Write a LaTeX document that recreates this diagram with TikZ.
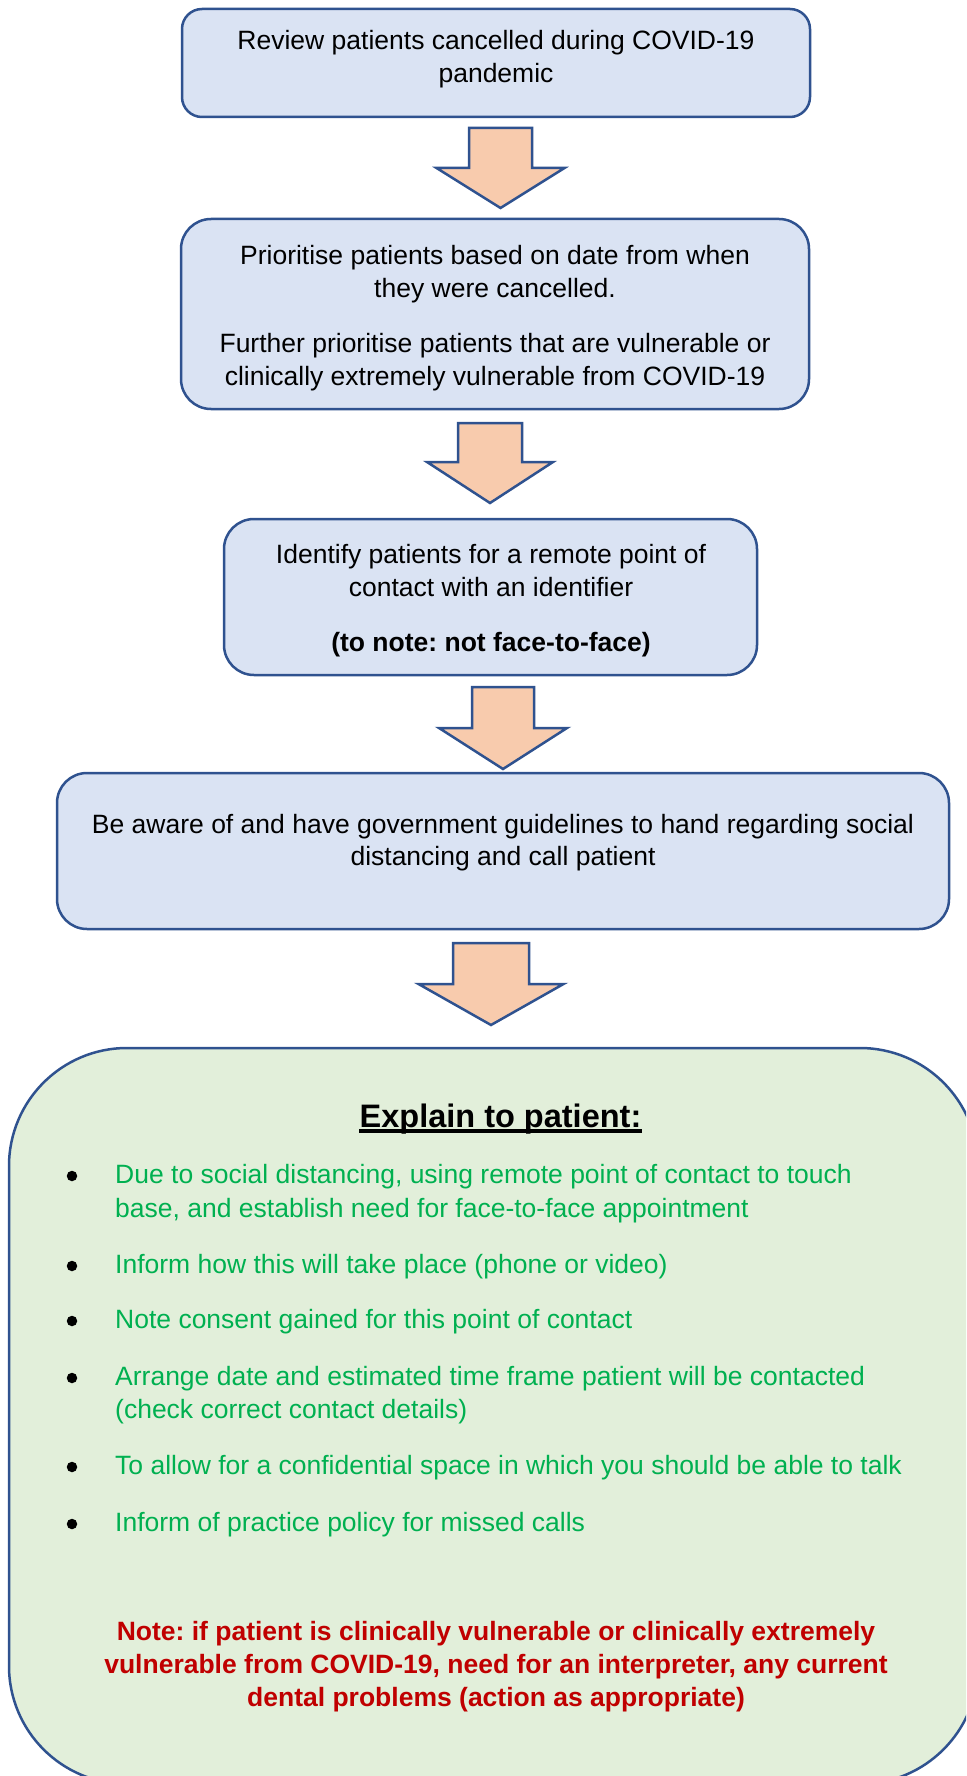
\documentclass[tikz,border=0pt]{standalone}
\usepackage{fontspec}
\setmainfont{Liberation Sans}
\usetikzlibrary{calc}
\frenchspacing
\definecolor{boxblue}{HTML}{DAE3F3}
\definecolor{edgeblue}{HTML}{2F528F}
\definecolor{arrowfill}{HTML}{F8CBAD}
\definecolor{panelgreen}{HTML}{E2EFDA}
\definecolor{textgreen}{HTML}{00B050}
\definecolor{textred}{HTML}{C00000}

% block arrow pointing down: cx, top, shaft half width, head y, head half width, tip y
\newcommand\blockarrow[6]{%
  \draw[downarrow] (#1-#3,#2) -- (#1+#3,#2) -- (#1+#3,#4) -- (#1+#5,#4)
    -- (#1,#6) -- (#1-#5,#4) -- (#1-#3,#4) -- cycle;}

\begin{document}
\begin{tikzpicture}[x=1pt,y=-1pt,
  stepbox/.style={draw=edgeblue, line width=2.5pt, fill=boxblue, rectangle, inner sep=0pt},
  downarrow/.style={draw=edgeblue, line width=2.5pt, fill=arrowfill, line join=miter},
  txt/.style={anchor=base, inner sep=0pt, font=\fontsize{26.5}{33}\selectfont},
  btxt/.style={txt, font=\fontsize{26.5}{33}\selectfont\bfseries},
  gtxt/.style={anchor=base west, inner sep=0pt, text=textgreen, font=\fontsize{26.5}{33}\selectfont},
  rtxt/.style={btxt, text=textred},
  dot/.style={circle, fill=black, inner sep=0pt, minimum size=10.5pt}
]
\useasboundingbox (0,0) rectangle (966,1776);

% ---- step boxes ----
\node[stepbox, minimum width=628pt, minimum height=108pt, rounded corners=20pt] (b1) at (496,63) {};
\node[txt] (b1a) at (496,50) {Review patients cancelled during COVID-19};
\node[txt] (b1b) at (496,83) {pandemic};

\node[stepbox, minimum width=628pt, minimum height=190pt, rounded corners=30pt] (b2) at (495,314) {};
\node[txt] (b2a) at (495,265) {Prioritise patients based on date from when};
\node[txt] (b2b) at (495,298) {they were cancelled.};
\node[txt] (b2c) at (495,352) {Further prioritise patients that are vulnerable or};
\node[txt] (b2d) at (495,385) {clinically extremely vulnerable from COVID-19};

\node[stepbox, minimum width=533pt, minimum height=156pt, rounded corners=30pt] (b3) at (490.5,597) {};
\node[txt] (b3a) at (491,563) {Identify patients for a remote point of};
\node[txt] (b3b) at (491,596) {contact with an identifier};
\node[btxt] (b3c) at (491,651) {(to note: not face-to-face)};

\node[stepbox, minimum width=892pt, minimum height=156pt, rounded corners=30pt] (b4) at (503,851) {};
\node[txt] (b4a) at (503,833) {Be aware of and have government guidelines to hand regarding social};
\node[txt] (b4b) at (503,865) {distancing and call patient};

% ---- block arrows between the steps ----
\blockarrow{500.5}{128}{31.5}{168}{64}{208}
\blockarrow{490}{423}{32}{462}{63}{503}
\blockarrow{503}{687}{31}{728}{64}{769}
\blockarrow{491}{943}{38}{984}{72.5}{1025}

% ---- explanation panel ----
\begin{scope}
\clip (0,0) rectangle (966,1776);
\node[draw=edgeblue, line width=2.5pt, fill=panelgreen, rectangle, inner sep=0pt,
      minimum width=969pt, minimum height=736pt, rounded corners=118pt] (panel) at (493.5,1416) {};
\end{scope}

\node[anchor=base, inner sep=0pt, font=\fontsize{32.5}{36}\selectfont\bfseries] (head) at (500.5,1127) {Explain to patient:};
\draw[line width=3.5pt] ($(head.base west)+(0,4)$) -- ($(head.base east)+(0,4)$);

\node[dot] (d1) at (72,1176) {};
\node[gtxt] (g1a) at (115,1183) {Due to social distancing, using remote point of contact to touch};
\node[gtxt] (g1b) at (115,1217) {base, and establish need for face-to-face appointment};
\node[dot] (d2) at (72,1266) {};
\node[gtxt] (g2) at (115,1273) {Inform how this will take place (phone or video)};
\node[dot] (d3) at (72,1321) {};
\node[gtxt] (g3) at (115,1328) {Note consent gained for this point of contact};
\node[dot] (d4) at (72,1378) {};
\node[gtxt] (g4a) at (115,1385) {Arrange date and estimated time frame patient will be contacted};
\node[gtxt] (g4b) at (115,1418) {(check correct contact details)};
\node[dot] (d5) at (72,1467) {};
\node[gtxt] (g5) at (115,1474) {To allow for a confidential space in which you should be able to talk};
\node[dot] (d6) at (72,1524) {};
\node[gtxt] (g6) at (115,1531) {Inform of practice policy for missed calls};

\node[rtxt] (n1) at (496,1640) {Note: if patient is clinically vulnerable or clinically extremely};
\node[rtxt] (n2) at (496,1673) {vulnerable from COVID-19, need for an interpreter, any current};
\node[rtxt] (n3) at (496,1706) {dental problems (action as appropriate)};
\end{tikzpicture}
\end{document}
